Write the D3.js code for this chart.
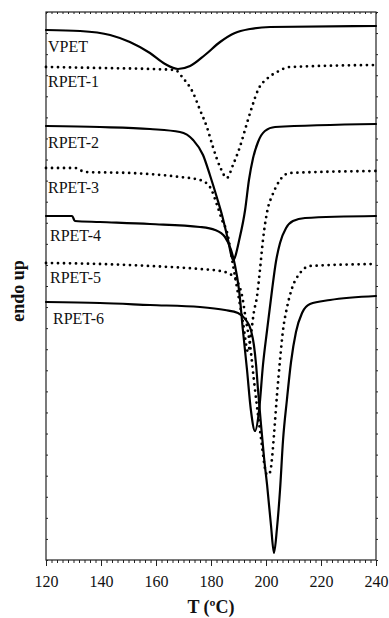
<!DOCTYPE html>
<html>
<head>
<meta charset="utf-8">
<script src="https://d3js.org/d3.v7.min.js"></script>
<style>
  body { margin: 0; background: #fff; }
  text { font-family: "Liberation Serif", "Times New Roman", serif; fill: #111; }
</style>
</head>
<body>
<div id="chart"></div>
<script>
// DSC heating scans, heat flow in arbitrary units (endo up)
var names = ["VPET", "RPET-1", "RPET-2", "RPET-3", "RPET-4", "RPET-5", "RPET-6"];
var dotted = [false, true, false, true, false, true, false];

var vpet = [[120,530],[132.4,529],[143.3,525],[150.5,518],[157.8,507],[163.3,496],[168,491],[172.4,494],
  [177.8,505],[183.3,518],[188.7,527],[194.2,531],[201.5,533],[240,534]];
var rpet1 = [[120,493],[139.6,492],[157.8,491],[166.9,490],[169.8,482],[173.5,467],[176,450],[178.5,433],
  [180.7,413],[183.3,393],[185.8,382],[188,395],[190.5,413],[193.1,437],[194.9,453],[197.1,470],
  [200.7,482],[204,488],[208.7,493],[240,495]];
var rpet2 = [[120,434],[139.6,433],[157.8,431],[168.7,428],[173.5,420],[177.1,405],[179.6,385],[182.2,362],
  [184,345],[186.2,320],[188,300],[190.5,323],[192.4,350],[193.8,380],[195.3,402],[197.1,418],
  [199.6,429],[203.3,433],[240,436]];
var rpet3 = [[120,392],[130.5,392],[134.2,388],[150.5,387],[168.7,383],[176,380],[179.6,373],[182.2,355],
  [184,340],[185.8,328],[188,295],[189.8,267],[191.6,238],[193.5,208],[194.5,225],[195.6,248],
  [196.7,263],[197.8,290],[198.9,320],[200.7,352],[202.2,364],[205.1,380],[208.7,387],[240,389]];
var rpet4 = [[120,344],[129.5,344],[130.5,339],[139.6,338],[157.8,336],[176,333],[181.5,330],[185.1,323],
  [187.3,310],[188.7,295],[190.2,270],[191.6,230],[193.1,190],[194.5,150],[196,129],[197.5,150],
  [198.9,195],[200.4,230],[202.2,270],[203.6,298],[205.1,317],[207.3,332],[209.8,339],[214.2,342],[240,344]];
var rpet5 = [[120,297],[139.6,296],[157.8,294],[176,291],[183.3,289],[186.9,286],[189.5,279],[191.3,264],
  [192.7,240],[194.2,215],[195.6,180],[197.1,145],[198.5,115],[199.6,92],[200.4,85],[201.5,88],
  [202.2,102],[202.9,125],[204,165],[205.1,200],[206.2,230],[207.6,252],[209.5,272],[212.4,287],[216,294],[240,296]];
var rpet6 = [[120,258],[139.6,257],[157.8,255],[176,253],[185.1,250],[189.8,247],[192.7,240],[194.5,230],
  [195.6,215],[196.4,195],[197.1,170],[198.2,135],[199.3,102],[200.4,75],[201.8,35],[202.9,7],[204,32],[205.1,70],
  [206.2,120],[207.6,160],[209.1,198],[210.9,228],[213.1,247],[216,256],[223.3,260],[240,264]];

var curves = [vpet, rpet1, rpet2, rpet3, rpet4, rpet5, rpet6];
var xTicks = [120, 140, 160, 180, 200, 220, 240];

var margin = {top: 12, right: 13, bottom: 58, left: 46},
    width = 389 - margin.left - margin.right,
    height = 618 - margin.top - margin.bottom;

var svg = d3.select("#chart")
  .append("svg")
    .attr("width", width + margin.left + margin.right)
    .attr("height", height + margin.top + margin.bottom)
  .append("g")
    .attr("transform", "translate(" + margin.left + "," + margin.top + ")");

var x = d3.scaleLinear().domain([120, 240]).range([0, width]);
var y = d3.scaleLinear().domain([0, 548]).range([height, 0]);

// minor ticks every 2 degrees, unlabeled y ticks every 1/26 of the height
var minorX = d3.range(120, 241, 2);
var yTickVals = d3.range(0, 27).map(function(k) { return k * 548 / 26; });

function styleAxis(g) {
  g.select(".domain").remove();
  g.selectAll("line").attr("stroke", "#222").attr("stroke-width", 1);
}

svg.append("g").attr("transform", "translate(0," + height + ")")
  .call(d3.axisBottom(x).tickValues(minorX).tickSize(3).tickFormat(""))
  .call(styleAxis);
svg.append("g").attr("transform", "translate(0," + height + ")")
  .call(d3.axisBottom(x).tickValues(xTicks).tickSize(6).tickFormat(d3.format("d")))
  .call(styleAxis)
  .call(function(g) {
    g.selectAll("text").attr("y", 27).attr("dy", 0)
      .style("font-size", "16px").style("font-family", "Liberation Serif, serif").attr("fill", "#111");
  });
svg.append("g")
  .call(d3.axisTop(x).tickValues(minorX).tickSize(-2).tickFormat(""))
  .call(styleAxis);
svg.append("g")
  .call(d3.axisLeft(y).tickValues(yTickVals).tickSize(-2).tickFormat(""))
  .call(styleAxis);
svg.append("g").attr("transform", "translate(" + width + ",0)")
  .call(d3.axisRight(y).tickValues(yTickVals).tickSize(2).tickFormat(""))
  .call(styleAxis);

// frame
svg.append("rect")
  .attr("width", width).attr("height", height)
  .attr("fill", "none").attr("stroke", "#222").attr("stroke-width", 1.2);

var line = d3.line()
  .x(function(d) { return x(d[0]); })
  .y(function(d) { return y(d[1]); })
  .curve(d3.curveMonotoneX);

svg.append("g")
  .selectAll("path")
  .data(curves)
  .enter()
  .append("path")
    .attr("d", line)
    .attr("fill", "none")
    .attr("stroke", "#000")
    .attr("stroke-linecap", "round")
    .attr("stroke-linejoin", "round")
    .attr("stroke-width", function(d, i) { return dotted[i] ? 2.8 : 2.2; })
    .attr("stroke-dasharray", function(d, i) { return dotted[i] ? "0 6" : null; });

// curve labels sit just under each curve's left end
var labelDx = [2, 2, 2, 2, 4, 4, 7];
var labelDy = [22, 20, 22, 25, 25, 20, 22];
svg.append("g")
  .selectAll("text")
  .data(names)
  .enter()
  .append("text")
    .attr("x", function(d, i) { return labelDx[i]; })
    .attr("y", function(d, i) { return y(curves[i][0][1]) + labelDy[i]; })
    .style("font-size", "16px")
    .text(function(d) { return d; });

// axis titles
svg.append("text")
  .attr("text-anchor", "middle")
  .attr("x", x(180))
  .attr("y", height + 53)
  .style("font-size", "18px")
  .style("font-weight", "bold")
  .text("T (ºC)");

svg.append("text")
  .attr("text-anchor", "middle")
  .attr("transform", "translate(" + (24 - margin.left) + "," + (291 - margin.top) + ") rotate(-90)")
  .style("font-size", "18px")
  .style("font-weight", "bold")
  .text("endo up");
</script>
</body>
</html>
